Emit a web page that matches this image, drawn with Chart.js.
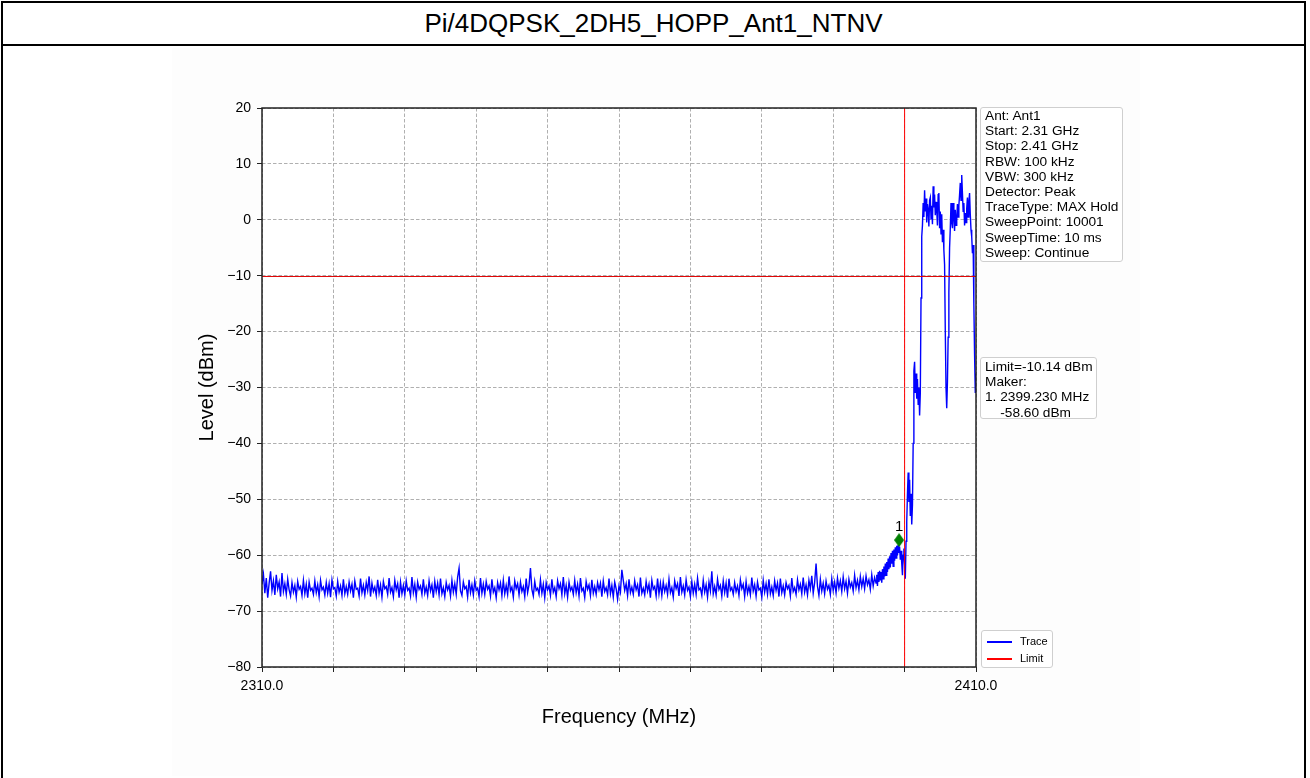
<!DOCTYPE html>
<html>
<head>
<meta charset="utf-8">
<script src="https://cdn.jsdelivr.net/npm/chart.js@4.4.1/dist/chart.umd.min.js"></script>
<style>
  html, body { margin: 0; padding: 0; background: #fff; }
  body { width: 1310px; height: 778px; position: relative; overflow: hidden; font-family: "Liberation Sans", Arial, sans-serif; color: #000; }
  #frame { position: absolute; left: 1px; top: 1px; width: 1305px; height: 800px; border: 2px solid #000; box-sizing: border-box; }
  #title { position: absolute; left: 0; top: 0; width: 100%; height: 41px; border-bottom: 2px solid #000; text-align: center; line-height: 41px; font-size: 26px; }
  #fig { position: absolute; left: 172px; top: 48px; width: 968px; height: 728px; background: #fdfdfd; }
  .box { position: absolute; box-sizing: border-box; border: 1px solid #cfcfcf; border-radius: 3px; background: #fff; font-size: 13.7px; line-height: 15.2px; white-space: pre; }
  #info { left: 980px; top: 107px; width: 143px; height: 155px; padding: 0 4px; }
  #limitbox { left: 980px; top: 357px; width: 117px; height: 62px; padding: 1px 4px; }
  #legend { left: 981px; top: 630px; width: 72px; height: 38px; font-size: 11px; }
  .lg { position: absolute; left: 0; height: 16px; line-height: 16px; }
  .lg .sw { position: absolute; left: 5px; top: 8px; width: 25px; height: 1.5px; }
  .lg .tx { position: absolute; left: 38px; top: 0; }
</style>
</head>
<body>
<div id="frame"><div id="title">Pi/4DQPSK_2DH5_HOPP_Ant1_NTNV</div></div>
<div id="fig"><canvas id="spectrum" width="968" height="728"></canvas></div>
<div class="box" id="info">Ant: Ant1
Start: 2.31 GHz
Stop: 2.41 GHz
RBW: 100 kHz
VBW: 300 kHz
Detector: Peak
TraceType: MAX Hold
SweepPoint: 10001
SweepTime: 10 ms
Sweep: Continue</div>
<div class="box" id="limitbox">Limit=-10.14 dBm
Maker:
1. 2399.230 MHz
    -58.60 dBm</div>
<div class="box" id="legend">
  <div class="lg" style="top:2px"><span class="sw" style="background:#0000ff"></span><span class="tx">Trace</span></div>
  <div class="lg" style="top:19px"><span class="sw" style="background:#ff0000"></span><span class="tx">Limit</span></div>
</div>
<script>
// sweep: noise floor 2310.0 - 2395.8 MHz, 0.2 MHz apart
const noiseStart = 2310.0;
const noiseStep = 0.2;
const noiseLevels = [
  -65.2,-63.4,-66.8,-64.1,-67.6,-65.0,-62.9,-66.3,-64.6,-67.1,-63.5,-66.0,-64.8,-67.4,-63.2,-66.5,-65.1,-67.0,-64.3,-66.2,
  -67.3,-64.9,-66.6,-65.4,-67.5,-64.7,-66.1,-65.6,-67.2,-64.5,-66.9,-65.2,-67.6,-64.8,-66.3,-65.9,-67.0,-64.6,-66.7,-65.3,
  -67.4,-64.5,-66.2,-65.7,-67.1,-64.9,-66.8,-65.1,-67.5,-64.4,-66.0,-65.8,-67.3,-64.7,-66.6,-65.5,-67.2,-64.3,-66.9,-65.6,
  -67.0,-64.8,-66.4,-65.2,-67.6,-64.6,-66.1,-65.9,-67.3,-64.2,-66.7,-65.4,-67.1,-64.9,-66.3,-63.8,-67.4,-65.0,-66.5,-65.7,
  -67.2,-64.4,-66.8,-65.3,-67.5,-64.7,-66.0,-65.6,-67.0,-64.1,-66.6,-65.8,-67.4,-64.5,-66.2,-65.1,-67.6,-64.8,-66.9,-65.4,
  -67.1,-64.6,-66.3,-65.9,-67.3,-63.9,-66.7,-65.2,-67.5,-64.8,-66.1,-65.5,-67.0,-64.3,-66.8,-65.7,-67.2,-64.6,-66.4,-65.3,
  -67.6,-64.7,-66.5,-65.0,-67.1,-64.2,-66.9,-65.8,-67.4,-64.9,-66.2,-65.4,-67.3,-64.5,-66.6,-65.1,-67.0,-63.9,-62.3,-66.4,
  -67.2,-64.8,-66.0,-65.6,-67.5,-64.4,-66.7,-65.3,-67.1,-64.6,-66.3,-65.9,-67.4,-64.1,-66.8,-65.2,-67.0,-64.7,-66.1,-65.5,
  -67.3,-64.3,-66.6,-65.8,-67.6,-64.9,-66.2,-65.0,-67.2,-64.5,-66.9,-65.4,-67.0,-63.8,-66.4,-65.7,-67.5,-64.6,-66.0,-65.1,
  -67.1,-64.8,-66.5,-65.6,-67.4,-64.2,-66.7,-65.3,-62.3,-66.1,-67.3,-64.7,-66.3,-65.9,-67.0,-64.4,-66.8,-65.2,-67.6,-64.9,
  -66.2,-65.5,-67.2,-64.3,-66.6,-65.8,-67.4,-64.6,-66.0,-65.1,-67.1,-63.9,-66.9,-65.4,-67.5,-64.8,-66.3,-65.7,-67.0,-64.5,
  -66.7,-65.2,-67.3,-64.1,-66.4,-65.9,-67.6,-64.7,-66.1,-65.3,-67.2,-64.4,-66.8,-65.6,-67.0,-64.9,-66.2,-65.0,-67.4,-64.6,
  -66.5,-65.8,-67.1,-64.2,-66.9,-65.4,-67.5,-64.8,-66.0,-67.9,-65.5,-66.6,-62.6,-64.5,-66.3,-65.1,-67.2,-64.3,-66.7,-65.7,
  -67.0,-64.6,-66.2,-65.3,-67.4,-64.0,-66.8,-65.9,-67.1,-64.7,-66.4,-65.2,-67.6,-64.5,-66.1,-65.6,-67.3,-64.2,-66.9,-65.0,
  -67.2,-64.8,-66.5,-65.4,-67.0,-64.3,-66.7,-65.8,-67.5,-64.6,-66.0,-65.1,-67.3,-63.9,-66.6,-65.5,-67.1,-64.4,-66.3,-65.7,
  -67.4,-64.7,-66.8,-65.2,-67.0,-64.1,-66.2,-65.9,-67.2,-64.5,-66.6,-65.3,-67.5,-64.8,-66.4,-62.9,-66.9,-65.6,-67.1,-64.3,
  -66.1,-65.4,-67.3,-64.6,-66.7,-65.0,-67.6,-64.2,-66.3,-65.8,-67.0,-64.9,-66.5,-65.5,-67.2,-64.4,-66.0,-65.2,-67.4,-64.7,
  -66.8,-65.6,-67.1,-64.0,-66.4,-65.3,-67.3,-64.8,-66.2,-65.9,-67.5,-64.5,-66.6,-65.1,-67.0,-64.3,-66.9,-65.7,-67.2,-64.6,
  -66.3,-65.0,-67.4,-64.2,-66.7,-65.5,-67.1,-64.9,-66.0,-65.4,-67.3,-64.1,-66.5,-65.8,-67.0,-64.4,-66.2,-65.2,-66.9,-64.0,
  -66.6,-65.3,-67.1,-64.5,-66.0,-63.7,-66.8,-64.9,-61.5,-65.6,-67.2,-64.3,-66.4,-65.0,-66.9,-64.6,-66.1,-65.4,-67.0,-64.2,
  -66.3,-64.8,-66.7,-64.1,-65.9,-64.6,-66.5,-63.9,-66.0,-64.7,-66.8,-64.3,-65.7,-64.9,-66.4,-63.6,-65.8,-64.5,-66.2,-63.8,
  -65.6,-64.2,-66.0,-63.7,-65.3,-64.4,-66.1,-63.5,-65.5,-64.0
];

// band edge and hopping channels 2396.0 - 2410.0 MHz, 0.1 MHz apart
const edgeStart = 2396.0;
const edgeStep = 0.1;
const edgeLevels = [
  -65.0,-63.5,-65.5,-63.0,-64.8,-62.8,-64.5,-63.0,-64.9,-62.5,
  -64.2,-62.0,-63.8,-61.5,-63.6,-61.2,-63.0,-60.6,-62.5,-60.2,
  -62.2,-59.6,-61.5,-59.2,-62.0,-59.0,-61.0,-58.6,-60.5,-58.3,
  -60.0,-58.2,-59.6,-58.5,-60.8,-59.2,-61.5,-63.6,-60.0,-58.8,
  -61.5,-64.2,-57.5,-54.0,-49.0,-45.2,-50.5,-46.5,-53.0,-49.0,
  -54.5,-51.0,-40.0,-27.0,-25.4,-31.0,-27.5,-32.0,-28.5,-33.0,
  -30.0,-35.0,-31.0,-14.0,-3.0,-1.0,3.0,0.5,5.3,1.5,
  3.8,-0.5,2.8,1.8,-1.2,3.5,4.0,0.2,2.5,-0.8,
  6.0,2.2,4.5,0.8,3.2,1.8,-1.0,4.5,4.8,-1.5,
  1.5,-2.5,1.0,-4.0,-1.8,-5.4,-8.0,-20.0,-30.0,-33.7,
  -29.0,-21.0,-13.0,-5.0,-1.5,3.0,-0.5,-1.5,3.0,0.5,
  -2.0,1.8,-1.0,0.0,2.8,0.5,2.5,4.5,6.6,3.5,
  8.0,4.8,1.5,3.0,-1.0,1.2,-0.5,2.0,4.0,0.5,
  3.2,4.8,1.0,-1.8,-3.0,-6.0,-4.5,-15.0,-24.0,-31.0,
  -27.5
];

const freqMin = 2310, freqMax = 2410;
const levelMin = -80, levelMax = 20;
const limitLevel = -10.14;
const limitFreq = 2400.0;
const markerFreq = 2399.23;
const markerLevel = -57.3;
const markerLabel = "1";
const xLabeled = [2310, 2410];

const tracePts = [];
noiseLevels.forEach((v, i) => tracePts.push({ x: +(noiseStart + i * noiseStep).toFixed(2), y: v }));
edgeLevels.forEach((v, i) => tracePts.push({ x: +(edgeStart + i * edgeStep).toFixed(2), y: v }));

// thin green diamond like matplotlib 'd'
const diamond = document.createElement("canvas");
diamond.width = 10; diamond.height = 14;
(() => {
  const c = diamond.getContext("2d");
  c.fillStyle = "#008000";
  c.beginPath();
  c.moveTo(5, 0); c.lineTo(10, 7); c.lineTo(5, 14); c.lineTo(0, 7);
  c.closePath(); c.fill();
})();

const plugin_frame = {
  id: "frame",
  beforeDraw: (chart) => {
    const a = chart.chartArea, ctx = chart.ctx;
    ctx.save();
    ctx.fillStyle = "#ffffff";
    ctx.fillRect(a.left, a.top, a.right - a.left, a.bottom - a.top);
    ctx.restore();
  },
  afterDatasetsDraw: (chart) => {
    const a = chart.chartArea, ctx = chart.ctx;
    ctx.save();
    ctx.strokeStyle = "#222";
    ctx.lineWidth = 1.5;
    ctx.strokeRect(a.left, a.top, a.right - a.left, a.bottom - a.top);
    // marker number
    const px = chart.scales.x.getPixelForValue(markerFreq);
    const py = chart.scales.y.getPixelForValue(markerLevel);
    ctx.fillStyle = "#000";
    ctx.font = "15px 'Liberation Sans', Arial, sans-serif";
    ctx.textAlign = "center";
    ctx.textBaseline = "alphabetic";
    ctx.fillText(markerLabel, px, py - 9);
    ctx.restore();
  },
};

Chart.defaults.font.family = "'Liberation Sans', Arial, sans-serif";
Chart.defaults.color = "#000";

const ctx = document.getElementById("spectrum").getContext("2d");
const chart_spectrum = new Chart(ctx, {
  type: "line",
  data: {
    datasets: [
      {
        label: "Trace",
        data: tracePts,
        borderColor: "#0000ff",
        borderWidth: 1.4,
        pointRadius: 0,
        tension: 0,
        order: 3,
      },
      {
        label: "Limit",
        data: [{ x: freqMin, y: limitLevel }, { x: freqMax, y: limitLevel }],
        borderColor: "#e00000",
        borderWidth: 1,
        pointRadius: 0,
        order: 2,
      },
      {
        label: "LimitFreq",
        data: [{ x: limitFreq, y: levelMin }, { x: limitFreq, y: levelMax }],
        borderColor: "#ff0000",
        borderWidth: 1,
        pointRadius: 0,
        order: 2,
      },
      {
        label: "Marker",
        data: [{ x: markerFreq, y: markerLevel }],
        showLine: false,
        pointStyle: diamond,
        pointRadius: 7,
        order: 1,
      },
    ],
  },
  options: {
    responsive: false,
    animation: false,
    events: [],
    layout: { padding: { top: 60, right: 164, left: 0, bottom: 0 } },
    scales: {
      x: {
        type: "linear",
        min: freqMin,
        max: freqMax,
        afterFit: (s) => { s.height = 109; },
        ticks: {
          stepSize: 10,
          autoSkip: false,
          maxRotation: 0,
          padding: 6,
          font: { size: 14 },
          callback: (v) => (xLabeled.includes(v) ? v.toFixed(1) : ""),
        },
        grid: { color: "#b0b0b0", lineWidth: 1, tickLength: 5, tickColor: "#222", tickWidth: 1 },
        border: { display: false, dash: [3.5, 2] },
        title: { display: true, text: "Frequency (MHz)", font: { size: 20 }, padding: { top: 0, bottom: 47 } },
      },
      y: {
        min: levelMin,
        max: levelMax,
        afterFit: (s) => { s.width = 90; },
        ticks: {
          stepSize: 10,
          padding: 6,
          font: { size: 14 },
          callback: (v) => String(v).replace("-", "\u2212"),
        },
        grid: { color: "#b0b0b0", lineWidth: 1, tickLength: 5, tickColor: "#222", tickWidth: 1 },
        border: { display: false, dash: [3.5, 2] },
        title: { display: true, text: "Level (dBm)", font: { size: 20 }, padding: { top: 23, bottom: 0 } },
      },
    },
    plugins: {
      legend: { display: false },
      tooltip: { enabled: false },
      title: { display: false },
    },
  },
  plugins: [plugin_frame],
});
</script>
</body>
</html>
